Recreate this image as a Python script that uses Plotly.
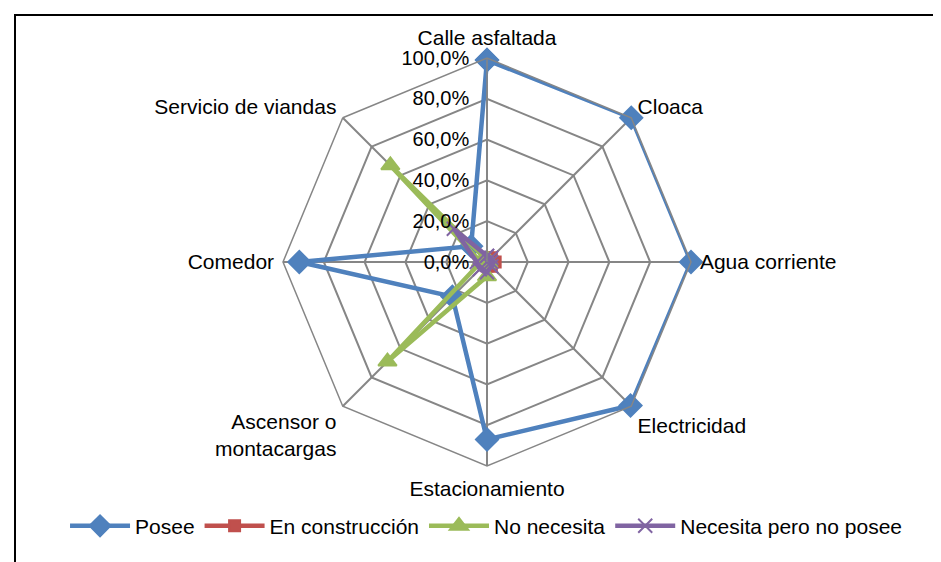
import plotly.graph_objects as go

categories = ["Calle asfaltada", "Cloaca", "Agua corriente", "Electricidad",
              "Estacionamiento", "Ascensor o<br>montacargas", "Comedor", "Servicio de viandas"]
posee = [0.99, 1.00, 1.00, 0.995, 0.87, 0.24, 0.92, 0.11]
en_construccion = [0.02, 0.03, 0.04, 0.03, 0.02, 0.01, 0.01, 0.01]
no_necesita = [0.01, 0.01, 0.00, 0.01, 0.07, 0.69, 0.03, 0.67]
necesita_no_posee = [0.03, 0.03, 0.02, 0.03, 0.05, 0.05, 0.05, 0.23]
radial_ticks = [0, 0.2, 0.4, 0.6, 0.8, 1.0]
radial_tick_labels = ["0,0%", "20,0%", "40,0%", "60,0%", "80,0%", "100,0%"]

series = [
    ("Posee", posee, "#4F81BD", "diamond", 17),
    ("En construcción", en_construccion, "#C0504D", "square", 11),
    ("No necesita", no_necesita, "#9BBB59", "triangle-up", 16),
    ("Necesita pero no posee", necesita_no_posee, "#8064A2", "x-thin", 14),
]

fig = go.Figure()
for name, vals, color, sym, size in series:
    fig.add_trace(go.Scatterpolar(
        r=vals + vals[:1], theta=categories + categories[:1],
        mode="lines+markers", name=name,
        line=dict(color=color, width=4.5),
        marker=dict(symbol=sym, size=size, color=color,
                    line=dict(color=color, width=2)),
    ))

W, H = 941, 562
cx, cy, R = 479, 254, 204
fig.update_layout(
    width=W, height=H,
    margin=dict(l=0, r=0, t=0, b=0),
    paper_bgcolor="white", plot_bgcolor="white",
    separators=",.",
    font=dict(family="Liberation Sans", size=21, color="black"),
    polar=dict(
        domain=dict(x=[(cx - R) / W, (cx + R) / W], y=[(H - cy - R) / H, (H - cy + R) / H]),
        bgcolor="white",
        gridshape="linear",
        radialaxis=dict(range=[0, 1], tickmode="array", tickvals=radial_ticks,
                        ticktext=[t + "\u2002" for t in radial_tick_labels],
                        angle=90, tickangle=90, side="counterclockwise",
                        showline=True, linecolor="#868686",
                        linewidth=1.5, gridcolor="#868686", gridwidth=1.5,
                        ticks="", tickfont=dict(size=20)),
        angularaxis=dict(direction="clockwise", rotation=90, showline=True,
                         linecolor="#868686", linewidth=1.5, gridcolor="#868686",
                         gridwidth=1.5, ticks="outside", ticklen=4,
                         tickcolor="rgba(0,0,0,0)", tickfont=dict(size=21)),
    ),
    legend=dict(orientation="h", x=0.508, xanchor="center", y=0.078, yanchor="middle",
                font=dict(size=21), itemwidth=60, traceorder="normal"),
    shapes=[dict(type="rect", xref="paper", yref="paper",
                 x0=7 / W, x1=940 / W, y0=-0.05, y1=(H - 7) / H,
                 line=dict(color="black", width=2))],
)

fig.write_html("out.html")
